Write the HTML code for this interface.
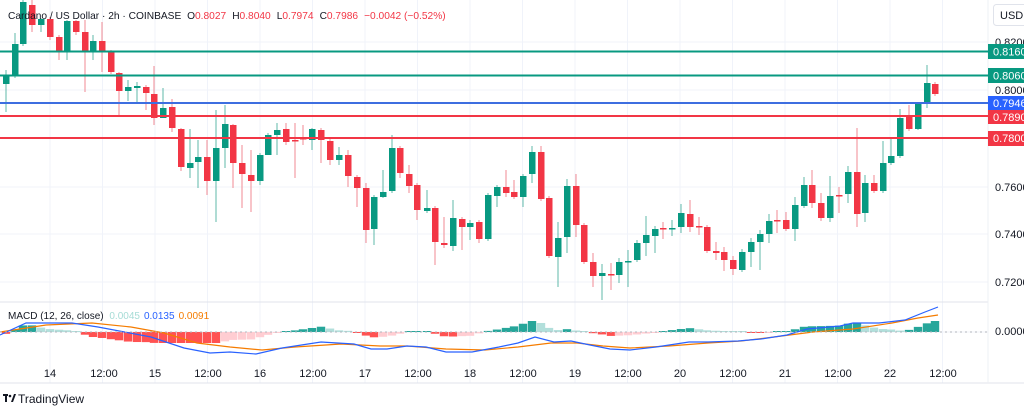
<!DOCTYPE html>
<html><head><meta charset="utf-8"><style>
html,body{margin:0;padding:0;background:#fff;width:1024px;height:413px;overflow:hidden;font-family:"Liberation Sans",sans-serif}
</style></head><body>
<svg id="s" width="1024" height="413" xmlns="http://www.w3.org/2000/svg" font-family="Liberation Sans, sans-serif">
<g id="grid" stroke="#f0f3fa" stroke-width="1"></g>
<line x1="0" y1="302" x2="988" y2="302" stroke="#e0e3eb"/>
<line x1="0" y1="383" x2="1024" y2="383" stroke="#e0e3eb"/>
<line x1="988" y1="0" x2="988" y2="383" stroke="#eef0f4"/>
<g id="candles"></g>
<line x1="0" y1="51.5" x2="988" y2="51.5" stroke="#089981" stroke-width="2"/>
<line x1="0" y1="75.5" x2="988" y2="75.5" stroke="#089981" stroke-width="2"/>
<line x1="0" y1="103" x2="988" y2="103" stroke="#3d6ee0" stroke-width="2"/>
<line x1="0" y1="116" x2="988" y2="116" stroke="#f23645" stroke-width="2"/>
<line x1="0" y1="138" x2="988" y2="138" stroke="#f23645" stroke-width="2"/>
<g id="macd"></g>
<line x1="0" y1="332" x2="988" y2="332" stroke="#b2b5be" stroke-dasharray="2,3"/>
<g font-size="11" fill="#131722">
<text x="995" y="46">0.8200</text>
<text x="995" y="94">0.8000</text>
<text x="995" y="191">0.7600</text>
<text x="995" y="238">0.7400</text>
<text x="995" y="286">0.7200</text>
<text x="995" y="335">0.0000</text>
</g>
<rect x="988" y="44" width="40" height="15" fill="#089981"/><text x="993" y="55.5" font-size="11" fill="#fff">0.8160</text>
<rect x="988" y="68" width="40" height="15" fill="#089981"/><text x="993" y="79.5" font-size="11" fill="#fff">0.8060</text>
<rect x="988" y="96" width="40" height="14" fill="#2962ff"/><text x="993" y="107" font-size="11" fill="#fff">0.7946</text>
<rect x="988" y="110" width="40" height="14" fill="#f23645"/><text x="993" y="121" font-size="11" fill="#fff">0.7890</text>
<rect x="988" y="131" width="40" height="15" fill="#f23645"/><text x="993" y="142" font-size="11" fill="#fff">0.7800</text>
<rect x="993.5" y="4.5" width="40" height="21" rx="3" fill="#fff" stroke="#e0e3eb"/>
<text x="1000" y="19" font-size="11" fill="#131722">USD</text>
<g font-size="11" fill="#131722" text-anchor="middle">
<text x="50" y="377">14</text><text x="104" y="377">12:00</text>
<text x="155" y="377">15</text><text x="208" y="377">12:00</text>
<text x="260" y="377">16</text><text x="313" y="377">12:00</text>
<text x="365" y="377">17</text><text x="418" y="377">12:00</text>
<text x="470" y="377">18</text><text x="523" y="377">12:00</text>
<text x="575" y="377">19</text><text x="628" y="377">12:00</text>
<text x="680" y="377">20</text><text x="733" y="377">12:00</text>
<text x="785" y="377">21</text><text x="838" y="377">12:00</text>
<text x="890" y="377">22</text><text x="943" y="377">12:00</text>
</g>
<text x="8" y="19" font-size="10.2" fill="#131722">Cardano / US Dollar · 2h · COINBASE <tspan dx="3">O</tspan><tspan fill="#f23645">0.8027</tspan><tspan dx="6">H</tspan><tspan fill="#f23645">0.8040</tspan><tspan dx="6">L</tspan><tspan fill="#f23645">0.7974</tspan><tspan dx="6">C</tspan><tspan fill="#f23645">0.7986</tspan><tspan dx="6" fill="#f23645">−0.0042 (−0.52%)</tspan></text>
<text x="8" y="319" font-size="10" fill="#131722">MACD (12, 26, close) <tspan dx="3" fill="#a6dcd6">0.0045</tspan><tspan dx="4" fill="#2962ff">0.0135</tspan><tspan dx="4" fill="#f57c00">0.0091</tspan></text>
<g transform="translate(3,393)" fill="#131722"><rect x="0" y="1" width="5" height="2"/><rect x="2" y="1" width="2" height="8"/><circle cx="7" cy="3" r="1.3"/><path d="M8 9 L11 1 L13 1 L10 9Z"/></g>
<text x="18" y="403" font-size="12" fill="#131722">TradingView</text>
</svg>
<script>
var NS="http://www.w3.org/2000/svg";
function el(p,t,a){var e=document.createElementNS(NS,t);for(var k in a)e.setAttribute(k,a[k]);p.appendChild(e);return e;}
var g=document.getElementById('grid');
for(var x=50;x<988;x+=52.5)el(g,'line',{x1:x,y1:0,x2:x,y2:383});
[42,90,138,187,234,282,332].forEach(function(y){el(g,'line',{x1:0,y1:y,x2:988,y2:y});});
var C=[[6,84,76,70,112],[15,76,44,33,78],[23,44,2,0,46],[32,5,25,0,32],[41,25,19,18,32],[50,19,37,17,40],[59,37,52,35,60],[67,51,21,20,60],[76,21,32,20,35],[85,32,52,20,92],[93,52,41,35,60],[102,41,52,22,72],[111,52,72,50,74],[119,73,91,72,117],[128,91,87,80,101],[137,88,86,82,103],[146,87,93,85,110],[154,94,118,66,125],[163,118,108,88,118],[172,107,128,99,132],[181,129,167,128,171],[190,168,163,129,178],[198,162,157,140,188],[207,157,181,140,195],[216,181,148,110,222],[225,148,124,105,168],[233,125,163,124,188],[242,163,174,145,208],[251,175,181,150,212],[260,181,155,153,185],[268,155,135,133,155],[277,135,130,123,155],[286,129,142,123,145],[295,140,141,123,178],[303,138,139,125,145],[312,140,129,128,150],[321,130,140,128,163],[330,141,160,138,165],[339,160,155,147,165],[348,155,176,150,187],[357,177,188,175,207],[366,188,230,183,243],[374,229,197,195,245],[383,197,192,170,198],[392,191,148,135,193],[400,148,173,146,178],[409,174,186,165,193],[417,185,210,183,220],[427,211,208,190,213],[435,208,242,206,265],[444,243,245,217,248],[453,246,218,200,251],[462,219,227,217,250],[470,227,223,220,240],[479,222,239,220,243],[488,239,195,193,241],[497,196,187,185,207],[506,187,193,170,197],[514,192,197,180,199],[523,197,176,174,207],[532,174,152,146,183],[541,152,199,146,201],[549,198,256,196,258],[558,257,238,222,287],[567,237,186,179,253],[576,186,225,174,237],[584,225,262,223,264],[593,262,276,253,287],[602,276,273,264,300],[611,274,275,263,290],[619,275,262,258,283],[628,262,261,250,287],[637,260,243,240,262],[646,243,235,216,256],[655,236,229,226,253],[663,228,229,222,239],[672,229,228,220,236],[681,227,213,204,233],[690,214,227,200,232],[699,226,227,217,235],[707,227,251,225,253],[716,251,253,242,260],[724,252,260,247,271],[733,260,269,256,275],[742,270,252,249,272],[751,252,242,238,267],[760,242,234,230,270],[769,234,221,214,243],[777,220,221,210,233],[786,220,229,212,231],[795,229,205,197,241],[804,206,185,177,208],[812,185,203,170,208],[821,203,218,193,221],[830,218,196,176,222],[839,195,196,187,213],[848,194,172,166,203],[857,172,214,128,227],[865,213,183,175,222],[874,183,191,175,193],[883,191,163,141,193],[891,163,156,139,165],[900,156,118,109,158],[909,117,129,105,131],[918,129,104,103,130],[927,104,83,65,108],[935,84,94,82,96]];
var cg=document.getElementById('candles');
C.forEach(function(c){var up=c[2]<c[1];var col=up?'#089981':'#f23645';
el(cg,'line',{x1:c[0],y1:c[3],x2:c[0],y2:c[4],stroke:up?'#5fb8a9':'#f08a93','stroke-width':1});
var t=Math.min(c[1],c[2]),h=Math.max(Math.abs(c[1]-c[2]),1.5);
el(cg,'rect',{x:c[0]-3,y:t,width:6.5,height:h,fill:col});});
var B=[[0,335],[26,323],[72,323],[98,327],[151,337],[184,348],[210,353],[230,352],[256,354],[282,348],[321,342],[354,344],[371,349],[387,349],[407,346],[426,347],[446,352],[472,352],[499,347],[518,343],[535,337],[554,342],[571,341],[590,345],[610,349],[630,350],[656,347],[689,342],[708,342],[738,341],[761,339],[787,335],[807,329],[840,326],[853,323],[879,323],[905,320],[925,312],[938,307]];
var O=[[0,332],[46,325],[92,323],[131,327],[164,333],[197,343],[230,347],[262,350],[295,347],[341,344],[380,346],[407,346],[446,349],[485,350],[518,347],[551,343],[577,343],[603,346],[630,348],[669,346],[708,343],[741,341],[774,337],[813,332],[853,329],[892,323],[918,318],[938,315]];
function interp(P,x){for(var i=1;i<P.length;i++){if(x<=P[i][0]){var a=P[i-1],b=P[i];return a[1]+(b[1]-a[1])*(x-a[0])/(b[0]-a[0]);}}return P[P.length-1][1];}
var mg=document.getElementById('macd');var prev=0;
C.forEach(function(c){var v=(interp(O,c[0])-interp(B,c[0]))*1.6;v=Math.max(-11,Math.min(11,v));
var col;if(v>=0)col=(v>=prev)?'#26a69a':'#b2dfdb';else col=(v<=prev)?'#ff5252':'#ffcdd2';prev=v;
var h=Math.max(Math.abs(v),1);el(mg,'rect',{x:c[0]-4.2,y:v>=0?332-h:332,width:8.4,height:h,fill:col});});
function path(P,col){el(mg,'polyline',{points:P.map(function(p){return p.join(',');}).join(' '),fill:'none',stroke:col,'stroke-width':1.2});}
path(O,'#f57c00');path(B,'#2962ff');
</script>
</body></html>
